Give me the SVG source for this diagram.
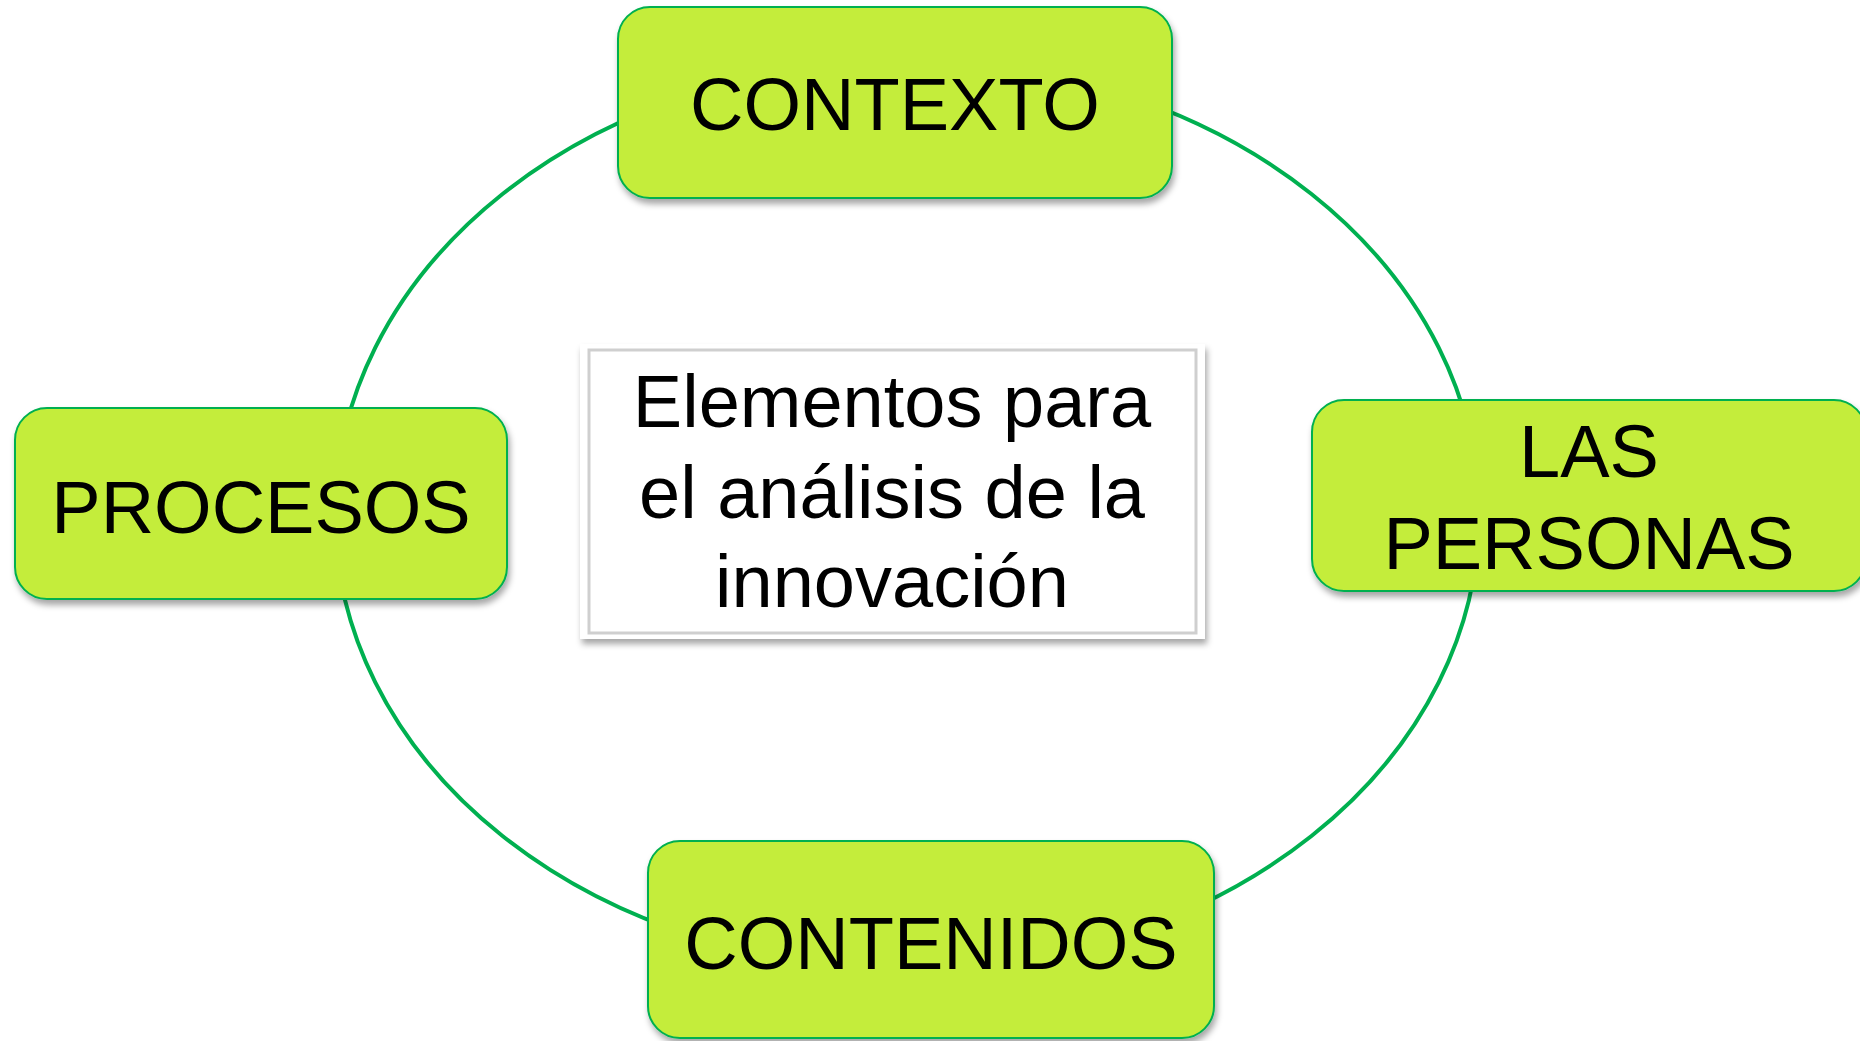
<svg xmlns="http://www.w3.org/2000/svg" width="1860" height="1041" viewBox="0 0 1860 1041">
<defs>
<filter id="sh" x="-10%" y="-10%" width="120%" height="130%">
<feDropShadow dx="2" dy="5" stdDeviation="3" flood-color="#000" flood-opacity="0.35"/>
</filter>
<style>
.box{fill:#c4ed3a;stroke:#00b050;stroke-width:2;filter:url(#sh)}
.lbl{font-family:"Liberation Sans",Arial,sans-serif;font-size:74px;fill:#000;text-anchor:middle}
.conn{fill:none;stroke:#00b050;stroke-width:4}
</style>
</defs>
<rect width="1860" height="1041" fill="#fff"/>
<g id="connectors">
<ellipse class="conn" cx="907" cy="515" rx="572" ry="454"/>
</g>
<g id="center">
<rect x="580" y="344" width="625" height="295" fill="#fff" filter="url(#sh)"/>
<rect x="589" y="350" width="607" height="283" fill="#fff" stroke="#cfcfcf" stroke-width="3"/>
<text class="lbl" x="892" y="427">Elementos para</text>
<text class="lbl" x="892" y="518">el análisis de la</text>
<text class="lbl" x="892" y="607">innovación</text>
</g>
<g id="contexto">
<rect class="box" x="618" y="7" width="554" height="191" rx="32"/>
<text class="lbl" x="895" y="130">CONTEXTO</text>
</g>
<g id="procesos">
<rect class="box" x="15" y="408" width="492" height="191" rx="32"/>
<text class="lbl" x="261" y="533">PROCESOS</text>
</g>
<g id="personas">
<rect class="box" x="1312" y="400" width="554" height="191" rx="32"/>
<text class="lbl" x="1589" y="477">LAS</text>
<text class="lbl" x="1589" y="569">PERSONAS</text>
</g>
<g id="contenidos">
<rect class="box" x="648" y="841" width="566" height="197" rx="32"/>
<text class="lbl" x="931" y="969">CONTENIDOS</text>
</g>
</svg>
